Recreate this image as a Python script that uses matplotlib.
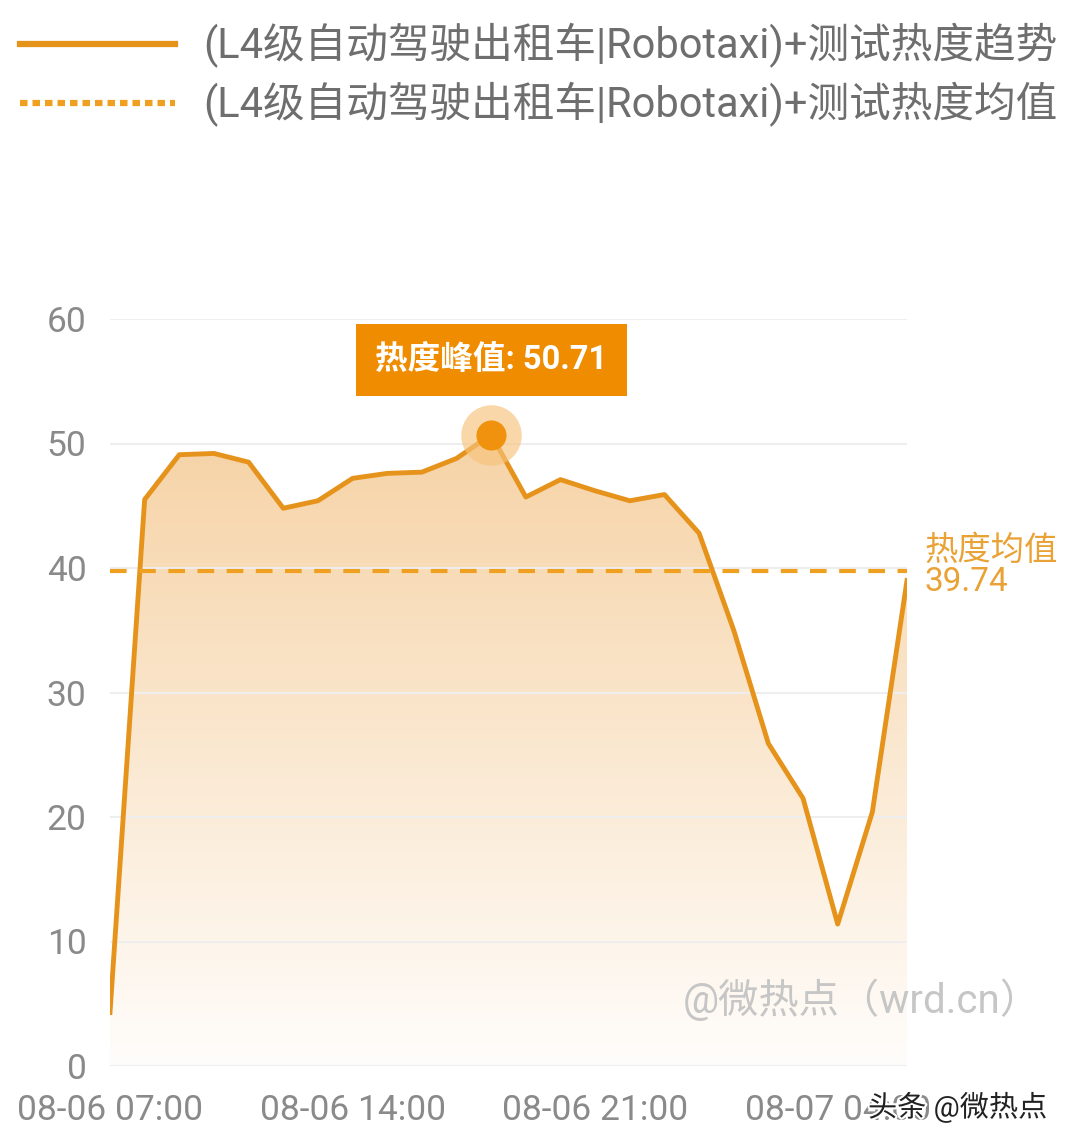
import numpy as np
import matplotlib.pyplot as plt
from matplotlib.lines import Line2D
import matplotlib.patheffects as pe
from matplotlib.colors import LinearSegmentedColormap

plt.rcParams['font.family'] = ['Roboto', 'Noto Sans CJK SC', 'DejaVu Sans']

hours = ["07:00", "08:00", "09:00", "10:00", "11:00", "12:00", "13:00", "14:00",
         "15:00", "16:00", "17:00", "18:00", "19:00", "20:00", "21:00", "22:00",
         "23:00", "00:00", "01:00", "02:00", "03:00", "04:00", "05:00", "06:00"]
heat = [4.3, 45.5, 49.1, 49.2, 48.5, 44.8, 45.4, 47.2, 47.6, 47.7, 48.8, 50.71,
        45.7, 47.1, 46.2, 45.4, 45.9, 42.8, 35.0, 25.9, 21.5, 11.4, 20.4, 39.0]
mean_val = 39.74
tick_pos = [0, 7, 14, 21]
tick_lab = ["08-06 07:00", "08-06 14:00", "08-06 21:00", "08-07 04:00"]
series_name = "(L4级自动驾驶出租车|Robotaxi)+测试热度"

LINE = "#E6931C"
MEAN = "#F0A020"
GRAY = "#8a8a8a"

x = np.arange(len(heat))
y = np.array(heat)

fig = plt.figure(figsize=(10.7, 11.45), dpi=100)
ax = fig.add_axes([110 / 1070, 1 - 1066 / 1145, 797 / 1070, 747 / 1145])
ax.set_xlim(0, len(heat) - 1)
ax.set_ylim(0, 60)

# grid
for s in ax.spines.values():
    s.set_visible(False)
ax.set_yticks(range(0, 61, 10))
ax.grid(axis="y", color="#eeeeee", lw=1.5)
ax.tick_params(length=0, labelsize=25.5, labelcolor=GRAY)
ax.tick_params(axis="x", pad=20)
ax.tick_params(axis="y", pad=17)
ax.set_xticks(tick_pos)
ax.set_xticklabels(tick_lab)

# gradient area
poly = ax.fill_between(x, y, 0, color="none", lw=0)
cmap = LinearSegmentedColormap.from_list("g", ["#FFFDFB", "#F6D2A4"])
grad = np.linspace(0, 1, 256).reshape(-1, 1)
im = ax.imshow(grad, cmap=cmap, aspect="auto", origin="lower",
               extent=[0, len(heat) - 1, 0, 52], zorder=1)
im.set_clip_path(poly.get_paths()[0], transform=ax.transData)

ax.plot(x, y, color=LINE, lw=3.5, zorder=3, solid_joinstyle="round")
ax.axhline(mean_val, color=MEAN, lw=3, ls=(0, (4, 3)), zorder=3)

# peak marker
pk = int(np.argmax(y))
ax.scatter([pk], [y[pk]], s=1900, color="#F7C27A", alpha=0.65, zorder=4, lw=0)
ax.scatter([pk], [y[pk]], s=470, color="#F0920E", zorder=5, lw=0)
ax.text(pk, y[pk] + 6.0, f"热度峰值: {y[pk]:.2f}", ha="center", va="center",
        fontsize=23.5, fontweight="bold", color="white", zorder=6,
        bbox=dict(boxstyle="square,pad=0.6", fc="#F08C00", ec="none"))

# mean label
ax.text(len(heat) - 1 + 0.5, mean_val + 1.6, "热度均值", fontsize=24,
        color="#E9A236", va="center", ha="left", clip_on=False)
ax.text(len(heat) - 1 + 0.5, mean_val - 0.9, f"{mean_val:.2f}", fontsize=24,
        color="#E9A236", va="center", ha="left", clip_on=False)

# watermarks
fig.text(683 / 1070, 1 - 1000 / 1145, "@微热点（wrd.cn）", fontsize=29,
         color="#c6c6c6", va="center", ha="left")
fig.text(868 / 1070, 1 - 1107 / 1145, "头条 @微热点", fontsize=21,
         color="#222222", va="center", ha="left",
         path_effects=[pe.withStroke(linewidth=3, foreground="white")], zorder=10)

# legend
handles = [Line2D([], [], color=LINE, lw=4.5),
           Line2D([], [], color=MEAN, lw=4.5, ls=(0, (1.2, 0.8)))]
leg = fig.legend(handles, [series_name + "趋势", series_name + "均值"],
                 loc="upper left", bbox_to_anchor=(20 / 1070, 1 - 23 / 1145),
                 frameon=False, borderpad=0, borderaxespad=0,
                 fontsize=30, handlelength=3.72, handletextpad=0.67,
                 labelspacing=0.33, labelcolor="#6e6e6e")

fig.savefig("out.png", dpi=100, facecolor="white")
